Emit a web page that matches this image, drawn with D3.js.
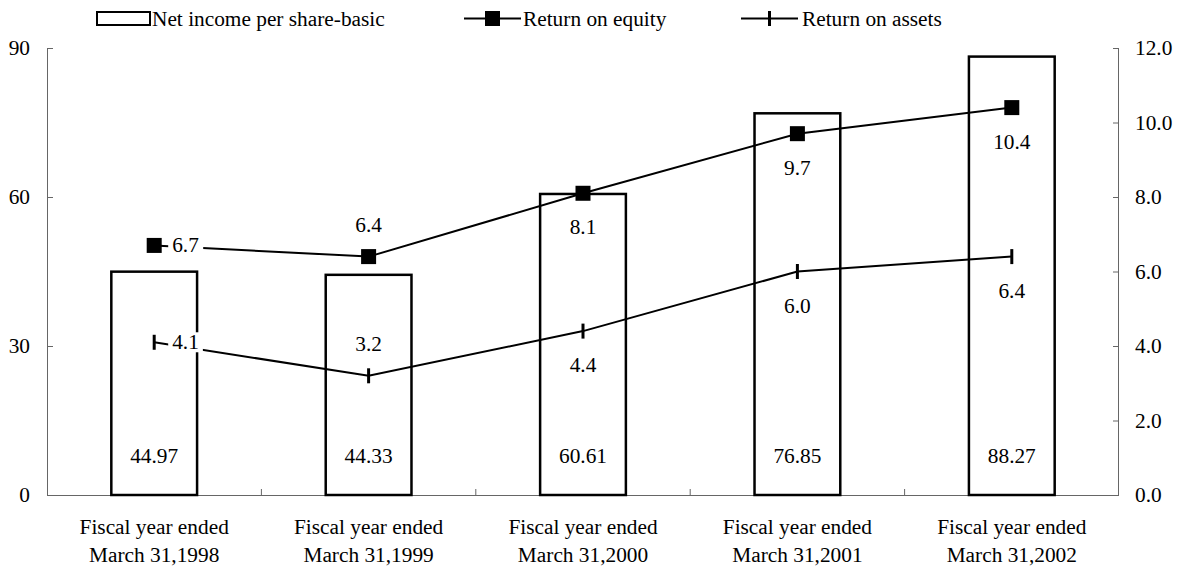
<!DOCTYPE html>
<html>
<head>
<meta charset="utf-8">
<script src="https://cdn.jsdelivr.net/npm/d3@7"></script>
<style>
  html, body { margin: 0; padding: 0; background: #fff; }
  svg text { font-family: "Liberation Serif", "Times New Roman", serif; font-size: 21.33px; fill: #000; }
</style>
</head>
<body>
<svg id="chart" width="1184" height="569"></svg>
<script>
const categories = ["1998", "1999", "2000", "2001", "2002"];
const categoryLine1 = ["Fiscal year ended", "Fiscal year ended", "Fiscal year ended", "Fiscal year ended", "Fiscal year ended"];
const categoryLine2 = ["March 31,1998", "March 31,1999", "March 31,2000", "March 31,2001", "March 31,2002"];
const netIncomePerShare = [44.97, 44.33, 60.61, 76.85, 88.27];
const returnOnEquity = [6.7, 6.4, 8.1, 9.7, 10.4];
const returnOnAssets = [4.1, 3.2, 4.4, 6.0, 6.4];
const leftTicks = [0, 30, 60, 90];
const rightTicks = [0, 2, 4, 6, 8, 10, 12];
const seriesNames = ["Net income per share-basic", "Return on equity", "Return on assets"];

// label placement (style)
const roePlacement = ["right", "above", "below", "below", "below"];
const roaPlacement = ["right", "above", "below", "below", "below"];

const svg = d3.select("#chart");
const plotLeft = 47, plotRight = 1119, plotTop = 48, plotBottom = 495;

const x = d3.scaleBand().domain(categories).range([plotLeft, plotRight]).paddingInner(0.6).paddingOuter(0.3);
const yL = d3.scaleLinear().domain([0, 90]).range([plotBottom, plotTop]);
const yR = d3.scaleLinear().domain([0, 12]).range([plotBottom, plotTop]);
const cx = c => x(c) + x.bandwidth() / 2;
const axisColor = "#666";

// Axes
const gL = svg.append("g").attr("transform", `translate(${plotLeft},0)`)
  .call(d3.axisRight(yL).tickValues(leftTicks).tickSize(6).tickFormat(d3.format("d")));
gL.selectAll("path,line").attr("stroke", axisColor);
gL.select(".domain").attr("d", `M0.5,${plotTop}V${plotBottom}`);
gL.selectAll("text").attr("x", -17).attr("text-anchor", "end").attr("dy", "0.32em")
  .style("font-family", "Liberation Serif").style("font-size", "21.33px");

const gR = svg.append("g").attr("transform", `translate(${plotRight},0)`)
  .call(d3.axisLeft(yR).tickValues(rightTicks).tickSize(6).tickFormat(d3.format(".1f")));
gR.selectAll("path,line").attr("stroke", axisColor);
gR.select(".domain").attr("d", `M-0.5,${plotTop}V${plotBottom}`);
gR.selectAll("text").attr("x", 16).attr("text-anchor", "start").attr("dy", "0.32em")
  .style("font-family", "Liberation Serif").style("font-size", "21.33px");

// bottom axis line and separators
svg.append("line").attr("x1", plotLeft).attr("x2", plotRight).attr("y1", plotBottom + 0.5).attr("y2", plotBottom + 0.5)
  .attr("stroke", axisColor);
const step = x.step();
svg.append("g").selectAll("line").data(categories.slice(1)).join("line")
  .attr("x1", d => x(d) - step * x.paddingInner() / 2).attr("x2", d => x(d) - step * x.paddingInner() / 2)
  .attr("y1", plotBottom).attr("y2", plotBottom - 6).attr("stroke", axisColor);

// category labels
const cl = svg.append("g");
categories.forEach((c, i) => {
  cl.append("text").attr("x", cx(c)).attr("y", 534).attr("text-anchor", "middle").text(categoryLine1[i]);
  cl.append("text").attr("x", cx(c)).attr("y", 562).attr("text-anchor", "middle").text(categoryLine2[i]);
});

// Bars
svg.append("g").selectAll("rect").data(netIncomePerShare).join("rect")
  .attr("x", (d, i) => x(categories[i]))
  .attr("y", d => yL(d))
  .attr("width", x.bandwidth())
  .attr("height", d => plotBottom - yL(d))
  .attr("fill", "#fff").attr("stroke", "#000").attr("stroke-width", 2.5);

// Lines
const lineR = d3.line().x((d, i) => cx(categories[i])).y(d => yR(d));
svg.append("path").datum(returnOnAssets).attr("d", lineR).attr("fill", "none").attr("stroke", "#000").attr("stroke-width", 2);
svg.append("path").datum(returnOnEquity).attr("d", lineR).attr("fill", "none").attr("stroke", "#000").attr("stroke-width", 2);

// Markers
svg.append("g").selectAll("rect").data(returnOnEquity).join("rect")
  .attr("x", (d, i) => cx(categories[i]) - 7.5).attr("y", d => yR(d) - 7.5)
  .attr("width", 15).attr("height", 15).attr("fill", "#000");
svg.append("g").selectAll("line").data(returnOnAssets).join("line")
  .attr("x1", (d, i) => cx(categories[i])).attr("x2", (d, i) => cx(categories[i]))
  .attr("y1", d => yR(d) - 7.5).attr("y2", d => yR(d) + 7.5)
  .attr("stroke", "#000").attr("stroke-width", 3);

// Data labels with white background
function addLabel(g, px, py, text, place) {
  let tx = px, ty, anchor = "middle";
  if (place === "right") { tx = px + 18; ty = py + 7; anchor = "start"; }
  else if (place === "above") { ty = py - 25; }
  else { ty = py + 41; }
  const t = g.append("text").attr("x", tx).attr("y", ty).attr("text-anchor", anchor).text(text);
  const bb = t.node().getBBox();
  g.insert("rect", "text").attr("x", bb.x - 4).attr("y", bb.y + 2).attr("width", bb.width + 8).attr("height", bb.height - 4)
    .attr("fill", "#fff");
}
const labG = svg.append("g");
returnOnEquity.forEach((v, i) => {
  const g = labG.append("g");
  addLabel(g, cx(categories[i]), yR(v), v.toFixed(1), roePlacement[i]);
});
returnOnAssets.forEach((v, i) => {
  const g = labG.append("g");
  addLabel(g, cx(categories[i]), yR(v), v.toFixed(1), roaPlacement[i]);
});
netIncomePerShare.forEach((v, i) => {
  labG.append("text").attr("x", cx(categories[i])).attr("y", 463).attr("text-anchor", "middle").text(v.toFixed(2));
});

// Legend
const lg = svg.append("g");
lg.append("rect").attr("x", 97).attr("y", 12).attr("width", 53).attr("height", 13)
  .attr("fill", "#fff").attr("stroke", "#000").attr("stroke-width", 2);
lg.append("text").attr("x", 152).attr("y", 26).text(seriesNames[0]);
lg.append("line").attr("x1", 464).attr("x2", 521).attr("y1", 18.5).attr("y2", 18.5).attr("stroke", "#000").attr("stroke-width", 2);
lg.append("rect").attr("x", 485).attr("y", 11).attr("width", 15).attr("height", 15).attr("fill", "#000");
lg.append("text").attr("x", 523).attr("y", 26).text(seriesNames[1]);
lg.append("line").attr("x1", 741).attr("x2", 798).attr("y1", 18.5).attr("y2", 18.5).attr("stroke", "#000").attr("stroke-width", 2);
lg.append("line").attr("x1", 769.5).attr("x2", 769.5).attr("y1", 11).attr("y2", 26).attr("stroke", "#000").attr("stroke-width", 3);
lg.append("text").attr("x", 802).attr("y", 26).text(seriesNames[2]);
</script>
</body>
</html>
